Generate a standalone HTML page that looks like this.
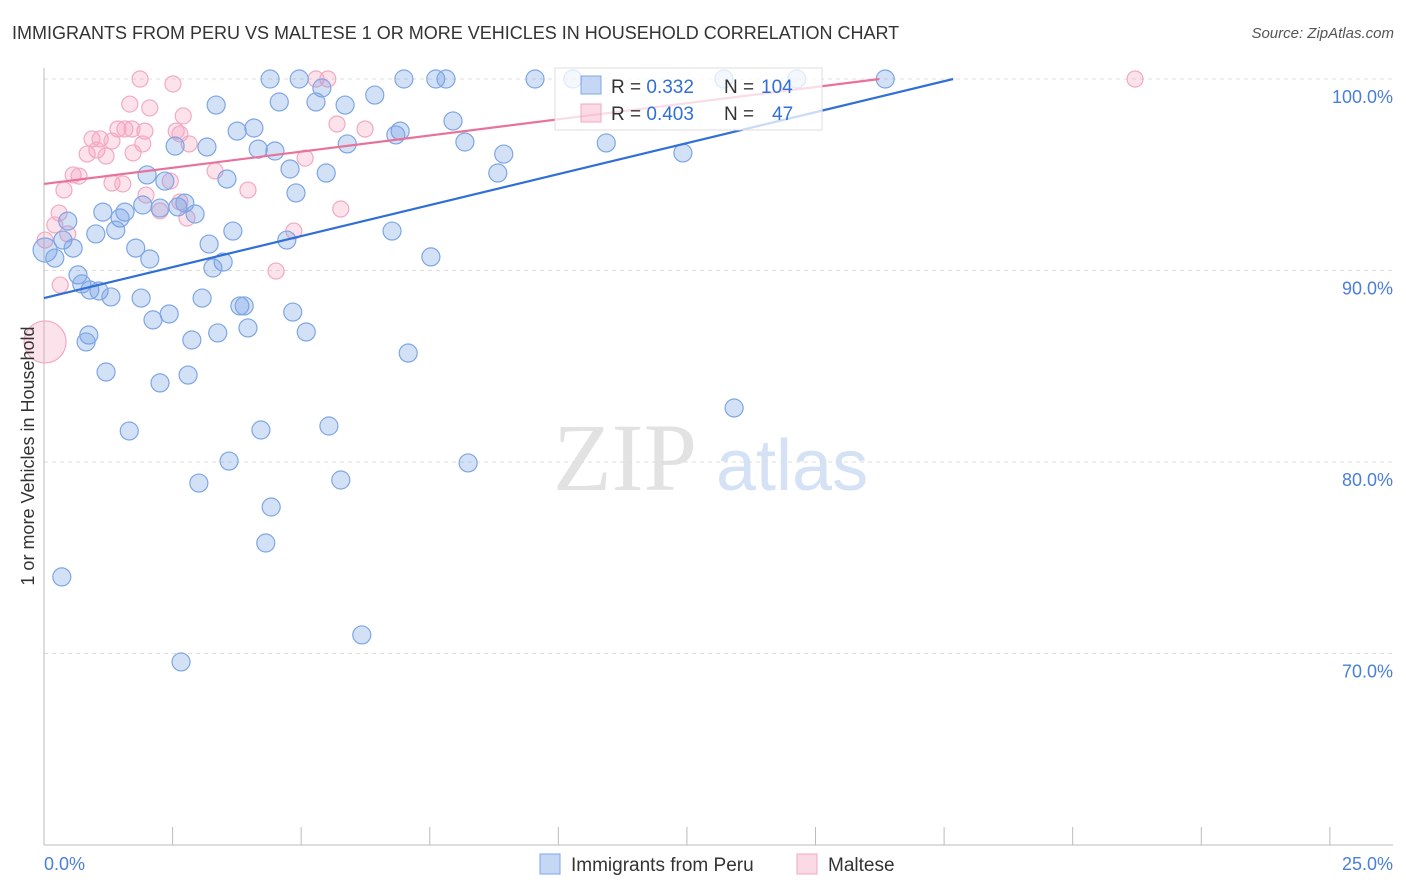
<!DOCTYPE html>
<html><head><meta charset="utf-8">
<style>
body{margin:0;background:#fff;font-family:"Liberation Sans",sans-serif;}
#wrap{position:relative;width:1406px;height:892px;overflow:hidden;}
.t{position:absolute;white-space:nowrap;}
</style></head><body>
<div id="wrap">
<div class="t" style="left:12px;top:23px;font-size:18px;color:#333;">IMMIGRANTS FROM PERU VS MALTESE 1 OR MORE VEHICLES IN HOUSEHOLD CORRELATION CHART</div>
<div class="t" style="right:12px;top:25px;font-size:15px;color:#555;font-style:italic;">Source: ZipAtlas.com</div>
<svg id="svg" width="1406" height="892" style="position:absolute;left:0;top:0"></svg>
</div>
<script>
const yTicks=[100,90,80,70];
const xTickVals=[0,2.383,4.766,7.149,9.532,11.915,14.298,16.681,19.064,21.447,23.83];
const blueX=[4.19,4.73,6.67,7.26,7.45,9.10,9.80,12.60,13.95,15.59,5.15,6.13,3.19,4.36,5.04,5.58,7.58,6.60,6.52,3.58,3.89,2.43,3.02,3.97,4.28,5.62,7.80,10.42,8.52,11.84,4.56,8.41,5.23,1.91,2.24,3.39,4.67,1.83,2.15,2.48,2.61,2.80,1.09,1.50,1.41,1.33,0.44,0.96,3.50,6.45,0.35,0.54,1.70,3.06,4.50,0.02,0.20,1.96,3.32,3.13,7.17,0.63,0.70,0.85,1.02,1.24,1.80,2.93,3.63,3.71,4.61,2.32,2.02,3.78,4.86,3.22,2.74,0.83,0.78,6.75,1.15,2.67,2.15,12.79,1.58,4.02,5.28,3.43,7.86,2.87,5.50,4.21,4.11,0.33,5.89,2.54];
const blueY=[100,100,100,100,100,100,100,100,100,100,99.53,99.16,98.64,98.80,98.80,98.64,97.81,97.28,97.08,97.28,97.44,96.50,96.45,96.34,96.24,96.61,96.71,96.66,96.08,96.14,95.30,95.09,95.09,94.99,94.67,94.78,94.05,93.42,93.26,93.32,93.52,92.95,93.05,93.05,92.74,92.11,92.58,91.91,92.06,92.06,91.59,91.17,91.17,91.38,91.59,91.07,90.65,90.60,90.44,90.13,90.71,89.77,89.30,88.98,88.93,88.62,88.56,88.56,88.15,88.15,87.83,87.73,87.42,87.00,86.79,86.74,86.37,86.63,86.27,85.69,84.70,84.54,84.13,82.82,81.62,81.67,81.88,80.05,79.95,78.90,79.06,77.65,75.77,74.00,70.97,69.56];
const pinkX=[1.78,2.39,5.04,5.26,20.22,1.59,1.96,2.58,1.37,1.50,1.87,2.45,2.52,0.89,1.04,1.26,2.69,0.98,0.80,1.15,1.65,4.84,0.54,0.65,1.26,1.46,3.17,3.78,1.89,0.37,2.52,2.15,5.50,2.65,0.28,0.20,0.44,4.63,0.02,4.30,0.30,0.02,5.43,5.95,2.34,1.83,1.63];
const pinkY=[100,99.74,100,100,100,98.69,98.49,98.07,97.39,97.39,97.28,97.28,97.13,96.87,96.87,96.76,96.61,96.29,96.08,95.98,96.14,95.87,94.99,94.93,94.57,94.52,95.20,94.20,93.94,94.20,93.58,93.11,93.21,92.74,93.00,92.38,91.91,92.06,91.59,89.97,89.24,86.27,97.65,97.39,94.67,96.61,97.39];
const blueTrend=[88.56,0.679];
const pinkTrend=[94.52,0.354];
const X=v=>44+v*53.96, Y=v=>79+(100-v)*19.15;
const svg=document.getElementById('svg');const NS='http://www.w3.org/2000/svg';
function mk(tag,attrs,parent){const e=document.createElementNS(NS,tag);for(const k in attrs)e.setAttribute(k,attrs[k]);(parent||svg).appendChild(e);return e;}
let wm=mk('text',{x:553,y:490,'font-size':96,fill:'#e2e2e2','font-family':'Liberation Serif, serif'});wm.textContent='ZIP';


let wm2=mk('text',{x:716,y:490,'font-size':72,fill:'#d5e2f5','font-family':'Liberation Sans, sans-serif'});wm2.textContent='atlas';


yTicks.forEach(v=>{const l=mk('line',{x1:44,x2:1393,y1:Y(v),y2:Y(v),stroke:'#ddd','stroke-dasharray':'4,4'});


const t=mk('text',{x:1393,y:Y(v)+24,'text-anchor':'end','font-size':18,fill:'#4a7fd6'});t.textContent=v.toFixed(1)+'%';

});
mk('line',{x1:44,x2:44,y1:68,y2:845,stroke:'#bbb'});
mk('line',{x1:44,x2:1393,y1:845,y2:845,stroke:'#bbb'});
xTickVals.forEach(v=>{const l=mk('line',{x1:X(v),x2:X(v),y1:827,y2:845,stroke:'#bbb'});

});
function dots(xs,ys,fill,stroke,name,bigIdx,bigR,r){xs.forEach((x,i)=>{const c=mk('circle',{cx:X(x),cy:Y(ys[i]),r:i===bigIdx?bigR:r,fill:fill,stroke:stroke,'stroke-width':1.2});

});}
dots(pinkX,pinkY,'rgba(244,160,190,0.3)','#f2a9c2','maltese-point',41,21,8);
dots(blueX,blueY,'rgba(110,155,230,0.3)','#7ea6e3','peru-point',55,12,9);
function trend(p,x1,color,name){const l=mk('line',{x1:X(0),y1:Y(p[0]),x2:X(x1),y2:Y(p[0]+p[1]*x1),stroke:color,'stroke-width':2.2});

}
trend(blueTrend,(100-blueTrend[0])/blueTrend[1],'#2f6fd6','peru-trendline');
trend(pinkTrend,(100-pinkTrend[0])/pinkTrend[1],'#e8739a','maltese-trendline');
let yt=mk('text',{x:0,y:0,'font-size':18,fill:'#333','text-anchor':'middle',transform:'translate(34,456) rotate(-90)'});yt.textContent='1 or more Vehicles in Household';


let x0=mk('text',{x:44,y:870,'font-size':18,fill:'#4a7fd6'});x0.textContent='0.0%';


let x1=mk('text',{x:1393,y:870,'font-size':18,fill:'#4a7fd6','text-anchor':'end'});x1.textContent='25.0%';


const lg=mk('g',{});


mk('rect',{x:555,y:68,width:267,height:62,fill:'rgba(255,255,255,0.75)',stroke:'#ddd'},lg);
mk('rect',{x:581,y:76,width:20,height:18,fill:'rgba(110,155,230,0.4)',stroke:'#7ea6e3'},lg);
mk('rect',{x:581,y:104,width:20,height:18,fill:'rgba(244,160,190,0.4)',stroke:'#f2a9c2'},lg);
[[93,'0.332','104'],[120,'0.403','47']].forEach(r=>{
let a=mk('text',{x:611,y:r[0],'font-size':19,fill:'#333'},lg);a.innerHTML='R = <tspan fill="#2f6fd6">'+r[1]+'</tspan>';
let b=mk('text',{x:724,y:r[0],'font-size':19,fill:'#333'},lg);b.innerHTML='N = <tspan fill="#2f6fd6" x="'+(r[2].length<3?772:761)+'">'+r[2]+'</tspan>';});
[[540,'rgba(110,155,230,0.4)','#7ea6e3','Immigrants from Peru','legend-peru'],[797,'rgba(244,160,190,0.4)','#f2a9c2','Maltese','legend-maltese']].forEach(d=>{
const g=mk('g',{});


mk('rect',{x:d[0],y:854,width:20,height:20,fill:d[1],stroke:d[2]},g);
const t=mk('text',{x:d[0]+31,y:871,'font-size':19,fill:'#333'},g);t.textContent=d[3];});
</script>
</body></html>
